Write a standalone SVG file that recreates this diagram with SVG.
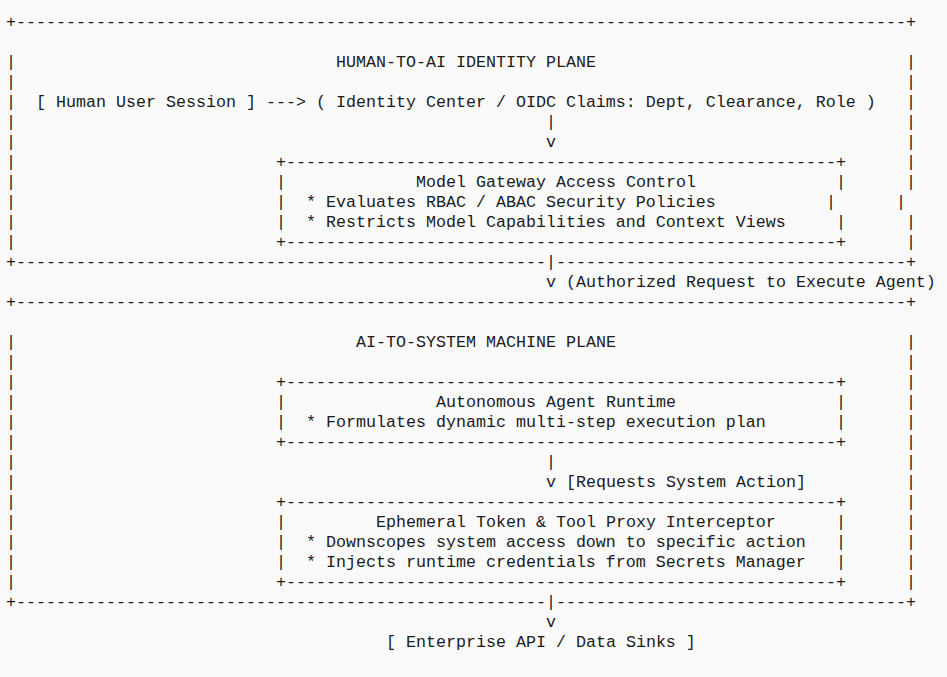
<svg xmlns="http://www.w3.org/2000/svg" width="947" height="677" viewBox="0 0 947 677" xml:space="preserve">
<style>
.t{font-family:"Liberation Mono","DejaVu Sans Mono",monospace;font-size:16.667px;fill:#1b1b1b;white-space:pre}
</style>
<rect x="0" y="0" width="947" height="677" fill="#fafafa"/>
<g id="human-plane" class="t">
<text x="6" y="27" textLength="910" lengthAdjust="spacing">+-----------------------------------------------------------------------------------------+</text>
<text x="336" y="67">HUMAN-TO-AI IDENTITY PLANE</text>
<text><tspan x="6" y="67">|</tspan><tspan x="6" y="87">|</tspan><tspan x="6" y="107">|</tspan><tspan x="6" y="127">|</tspan><tspan x="6" y="147">|</tspan><tspan x="6" y="167">|</tspan><tspan x="6" y="187">|</tspan><tspan x="6" y="207">|</tspan><tspan x="6" y="227">|</tspan><tspan x="6" y="247">|</tspan></text>
<text><tspan x="906" y="67">|</tspan><tspan x="906" y="87">|</tspan><tspan x="906" y="107">|</tspan><tspan x="906" y="127">|</tspan><tspan x="906" y="147">|</tspan><tspan x="906" y="167">|</tspan><tspan x="906" y="187">|</tspan><tspan x="896" y="207">|</tspan><tspan x="906" y="227">|</tspan><tspan x="906" y="247">|</tspan></text>
<text x="6" y="267" textLength="540" lengthAdjust="spacing">+-----------------------------------------------------</text>
<text x="556" y="267" textLength="360" lengthAdjust="spacing">-----------------------------------+</text>
</g>
<g id="human-session" class="t">
<text x="36" y="107">[ Human User Session ]</text>
</g>
<g id="identity-center" class="t">
<text x="316" y="107">( Identity Center / OIDC Claims: Dept, Clearance, Role )</text>
</g>
<g id="model-gateway" class="t">
<text x="276" y="167" textLength="570" lengthAdjust="spacing">+-------------------------------------------------------+</text>
<text x="416" y="187">Model Gateway Access Control</text>
<text x="306" y="207">* Evaluates RBAC / ABAC Security Policies</text>
<text x="306" y="227">* Restricts Model Capabilities and Context Views</text>
<text><tspan x="276" y="187">|</tspan><tspan x="276" y="207">|</tspan><tspan x="276" y="227">|</tspan></text>
<text><tspan x="836" y="187">|</tspan><tspan x="826" y="207">|</tspan><tspan x="836" y="227">|</tspan></text>
<text x="276" y="247" textLength="570" lengthAdjust="spacing">+-------------------------------------------------------+</text>
</g>
<g id="machine-plane" class="t">
<text x="6" y="307" textLength="910" lengthAdjust="spacing">+-----------------------------------------------------------------------------------------+</text>
<text x="356" y="347">AI-TO-SYSTEM MACHINE PLANE</text>
<text><tspan x="6" y="347">|</tspan><tspan x="6" y="367">|</tspan><tspan x="6" y="387">|</tspan><tspan x="6" y="407">|</tspan><tspan x="6" y="427">|</tspan><tspan x="6" y="447">|</tspan><tspan x="6" y="467">|</tspan><tspan x="6" y="487">|</tspan><tspan x="6" y="507">|</tspan><tspan x="6" y="527">|</tspan><tspan x="6" y="547">|</tspan><tspan x="6" y="567">|</tspan><tspan x="6" y="587">|</tspan></text>
<text><tspan x="906" y="347">|</tspan><tspan x="906" y="367">|</tspan><tspan x="906" y="387">|</tspan><tspan x="906" y="407">|</tspan><tspan x="906" y="427">|</tspan><tspan x="906" y="447">|</tspan><tspan x="906" y="467">|</tspan><tspan x="906" y="487">|</tspan><tspan x="906" y="507">|</tspan><tspan x="906" y="527">|</tspan><tspan x="906" y="547">|</tspan><tspan x="906" y="567">|</tspan><tspan x="906" y="587">|</tspan></text>
<text x="6" y="607" textLength="540" lengthAdjust="spacing">+-----------------------------------------------------</text>
<text x="556" y="607" textLength="360" lengthAdjust="spacing">-----------------------------------+</text>
</g>
<g id="agent-runtime" class="t">
<text x="276" y="387" textLength="570" lengthAdjust="spacing">+-------------------------------------------------------+</text>
<text x="436" y="407">Autonomous Agent Runtime</text>
<text x="306" y="427">* Formulates dynamic multi-step execution plan</text>
<text><tspan x="276" y="407">|</tspan><tspan x="276" y="427">|</tspan></text>
<text><tspan x="836" y="407">|</tspan><tspan x="836" y="427">|</tspan></text>
<text x="276" y="447" textLength="570" lengthAdjust="spacing">+-------------------------------------------------------+</text>
</g>
<g id="token-proxy" class="t">
<text x="276" y="507" textLength="570" lengthAdjust="spacing">+-------------------------------------------------------+</text>
<text x="376" y="527">Ephemeral Token &amp; Tool Proxy Interceptor</text>
<text x="306" y="547">* Downscopes system access down to specific action</text>
<text x="306" y="567">* Injects runtime credentials from Secrets Manager</text>
<text><tspan x="276" y="527">|</tspan><tspan x="276" y="547">|</tspan><tspan x="276" y="567">|</tspan></text>
<text><tspan x="836" y="527">|</tspan><tspan x="836" y="547">|</tspan><tspan x="836" y="567">|</tspan></text>
<text x="276" y="587" textLength="570" lengthAdjust="spacing">+-------------------------------------------------------+</text>
</g>
<g id="enterprise-api" class="t">
<text x="386" y="647">[ Enterprise API / Data Sinks ]</text>
</g>
<g id="connectors" class="t">
<text x="266" y="107">---&gt;</text>
<text x="546" y="127">|</text>
<text x="546" y="147">v</text>
<text x="546" y="267">|</text>
<text x="546" y="287">v</text>
<text x="566" y="287">(Authorized Request to Execute Agent)</text>
<text x="546" y="467">|</text>
<text x="546" y="487">v</text>
<text x="566" y="487">[Requests System Action]</text>
<text x="546" y="607">|</text>
<text x="546" y="627">v</text>
</g>
</svg>
